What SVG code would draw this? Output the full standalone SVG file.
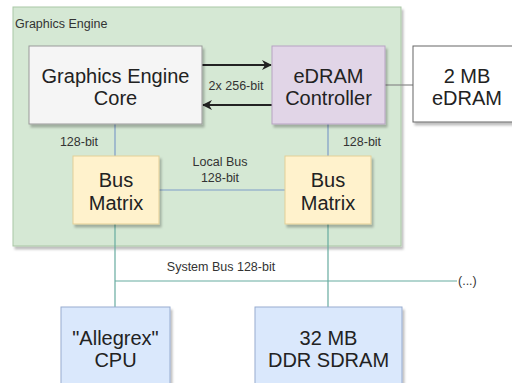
<svg xmlns="http://www.w3.org/2000/svg" width="512" height="383" viewBox="0 0 512 383">
  <defs>
    <filter id="sh" x="-10%" y="-10%" width="130%" height="130%">
      <feDropShadow dx="2" dy="3" stdDeviation="1.2" flood-color="#000" flood-opacity="0.25"/>
    </filter>
    <marker id="ah" viewBox="0 0 10 10" refX="9" refY="5" markerWidth="5" markerHeight="5" orient="auto" markerUnits="strokeWidth">
      <path d="M0,0 L10,5 L0,10 L3,5 Z" fill="#222"/>
    </marker>
  </defs>
  <style>
    text { font-family: "Liberation Sans", Arial, sans-serif; fill: #222; }
    .big { font-size: 20px; text-anchor: middle; }
    .sm { font-size: 12.5px; fill: #333; }
    .mid { text-anchor: middle; }
    .box { filter: url(#sh); stroke-width: 1; }
  </style>
  <rect width="512" height="383" fill="#fff"/>

  <g id="graphics-engine">
    <rect class="box" x="13" y="7" width="388" height="239" fill="#d5e8d4" stroke="#a9c7a5"/>
    <text class="sm" x="15" y="28">Graphics Engine</text>
  </g>

  <g id="connectors" fill="none">
    <line x1="202" y1="65" x2="271" y2="65" stroke="#222" stroke-width="2" marker-end="url(#ah)"/>
    <line x1="272" y1="105" x2="203" y2="105" stroke="#222" stroke-width="2" marker-end="url(#ah)"/>
    <line x1="385" y1="85" x2="413" y2="85" stroke="#888" stroke-width="1.2"/>
    <line x1="115" y1="124" x2="115" y2="156" stroke="#7f9cc7" stroke-width="1.2"/>
    <line x1="328" y1="124" x2="328" y2="156" stroke="#7f9cc7" stroke-width="1.2"/>
    <line x1="159" y1="190" x2="285" y2="190" stroke="#7f9cc7" stroke-width="1.2"/>
    <line x1="115" y1="224" x2="115" y2="307" stroke="#67ab9f" stroke-width="1.2"/>
    <line x1="328" y1="224" x2="328" y2="307" stroke="#67ab9f" stroke-width="1.2"/>
    <line x1="115" y1="281" x2="457" y2="281" stroke="#67ab9f" stroke-width="1.2"/>
  </g>

  <g id="labels">
    <text class="sm mid" x="236" y="90">2x 256-bit</text>
    <text class="sm mid" x="79" y="146">128-bit</text>
    <text class="sm mid" x="362" y="146">128-bit</text>
    <text class="sm mid" x="220" y="166">Local Bus</text>
    <text class="sm mid" x="220" y="182">128-bit</text>
    <text class="sm mid" x="221" y="271">System Bus 128-bit</text>
    <text class="sm" x="458" y="285">(...)</text>
  </g>

  <g id="core">
    <rect class="box" x="29" y="46" width="173" height="78" fill="#f5f5f5" stroke="#999"/>
    <text class="big" x="115.5" y="83">Graphics Engine</text>
    <text class="big" x="115.5" y="105">Core</text>
  </g>

  <g id="edram-controller">
    <rect class="box" x="272" y="46" width="113" height="78" fill="#e1d5e7" stroke="#b7a3c3"/>
    <text class="big" x="328.5" y="83">eDRAM</text>
    <text class="big" x="328.5" y="105">Controller</text>
  </g>

  <g id="edram">
    <rect class="box" x="413" y="46" width="108" height="76" fill="#fff" stroke="#666"/>
    <text class="big" x="467" y="83">2 MB</text>
    <text class="big" x="467" y="105">eDRAM</text>
  </g>

  <g id="bus-matrix-left">
    <rect class="box" x="73" y="156" width="86" height="68" fill="#fff2cc" stroke="#e3cf97"/>
    <text class="big" x="116" y="187">Bus</text>
    <text class="big" x="116" y="210">Matrix</text>
  </g>

  <g id="bus-matrix-right">
    <rect class="box" x="285" y="156" width="86" height="68" fill="#fff2cc" stroke="#e3cf97"/>
    <text class="big" x="328" y="187">Bus</text>
    <text class="big" x="328" y="210">Matrix</text>
  </g>

  <g id="cpu">
    <rect class="box" x="61" y="307" width="109" height="90" fill="#dae8fc" stroke="#97acd0"/>
    <text class="big" x="115.5" y="345">"Allegrex"</text>
    <text class="big" x="115.5" y="367">CPU</text>
  </g>

  <g id="ddr">
    <rect class="box" x="255" y="307" width="147" height="90" fill="#dae8fc" stroke="#97acd0"/>
    <text class="big" x="328.5" y="345">32 MB</text>
    <text class="big" x="328.5" y="367">DDR SDRAM</text>
  </g>
</svg>
